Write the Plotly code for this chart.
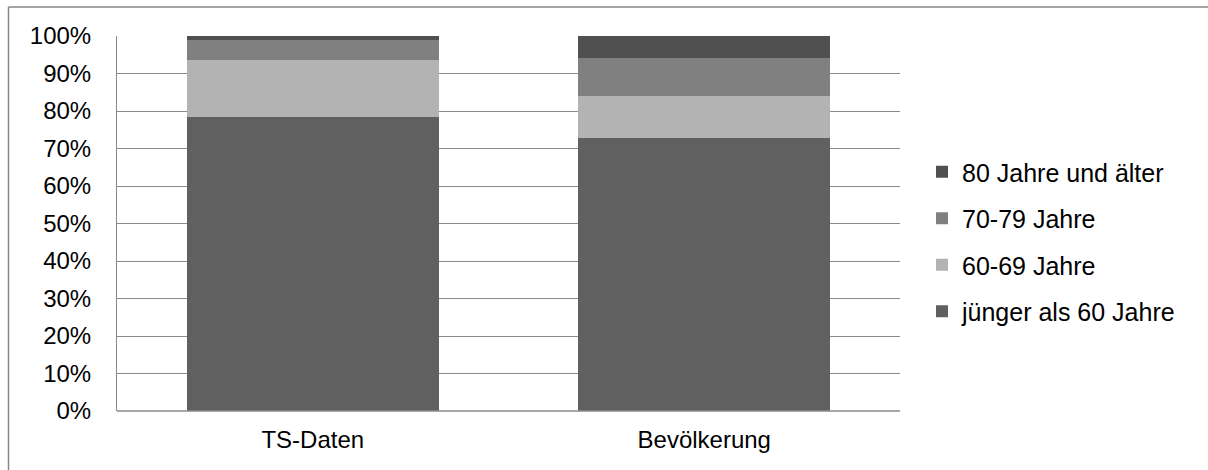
import plotly.graph_objects as go

categories = ["TS-Daten", "Bevölkerung"]
series_names = ["jünger als 60 Jahre", "60-69 Jahre", "70-79 Jahre", "80 Jahre und älter"]
values_young = [78.5, 72.8]
values_60 = [15.1, 11.3]
values_70 = [5.3, 10.0]
values_80 = [1.1, 5.9]
colors = ["#606060", "#b3b3b3", "#808080", "#505050"]
legend_ranks = [4, 3, 2, 1]
y_ticks = [0, 10, 20, 30, 40, 50, 60, 70, 80, 90, 100]
y_labels = [f"{v}%" for v in y_ticks]

W, H = 1208, 470
ML, MT = 117, 36
MR = W - 900
MB = H - 411
PW, PH = W - ML - MR, H - MT - MB

fig = go.Figure()
for name, vals, col, rk in zip(series_names, [values_young, values_60, values_70, values_80], colors, legend_ranks):
    fig.add_trace(go.Bar(
        x=categories, y=vals, name=name, legendgroup=name, legendrank=rk,
        marker=dict(color=col, line=dict(width=0)),
    ))

font = dict(family="Liberation Sans, Arial, sans-serif", size=24, color="#000000")
legend_font = dict(family="Liberation Sans, Arial, sans-serif", size=25, color="#000000")

def px_x(p):  # figure px -> paper
    return (p - ML) / PW

def px_y(p):
    return (H - MB - p) / PH

border = dict(color="#868686", width=1.5)

fig.update_layout(
    width=W, height=H,
    margin=dict(l=ML, r=MR, t=MT, b=MB, pad=0, autoexpand=False),
    barmode="stack", bargap=0.356,
    paper_bgcolor="white", plot_bgcolor="white",
    font=font,
    showlegend=True,
    legend=dict(
        x=px_x(922), y=px_y(149), xanchor="left", yanchor="top",
        traceorder="grouped", tracegroupgap=11,
        font=legend_font, bgcolor="rgba(0,0,0,0)",
    ),
    xaxis=dict(
        showgrid=False, showline=False, ticks="", zeroline=False,
        tickfont=font, ticklabelstandoff=12, automargin=False,
    ),
    yaxis=dict(
        range=[0, 100], tickvals=y_ticks, ticktext=y_labels,
        showgrid=True, gridcolor="#8a8a8a", gridwidth=1,
        showline=True, linecolor="#8a8a8a", linewidth=1,
        ticks="", zeroline=False, tickfont=font, ticklabelstandoff=20,
        automargin=False,
    ),
    shapes=[
        dict(type="line", xref="paper", yref="paper",
             x0=px_x(8.5), x1=px_x(8.5), y0=px_y(H + 5), y1=px_y(7),
             line=border, layer="below"),
        dict(type="line", xref="paper", yref="paper",
             x0=px_x(8.5), x1=px_x(W + 5), y0=px_y(7), y1=px_y(7),
             line=border, layer="below"),
        dict(type="line", xref="paper", yref="paper",
             x0=0, x1=1, y0=0, y1=0,
             line=dict(color="#8a8a8a", width=1.5), layer="above"),
    ],
)

fig.write_html(
    "out.html",
    config={"displayModeBar": False},
    post_script="document.body.style.margin='0';document.body.style.overflow='hidden';",
)
